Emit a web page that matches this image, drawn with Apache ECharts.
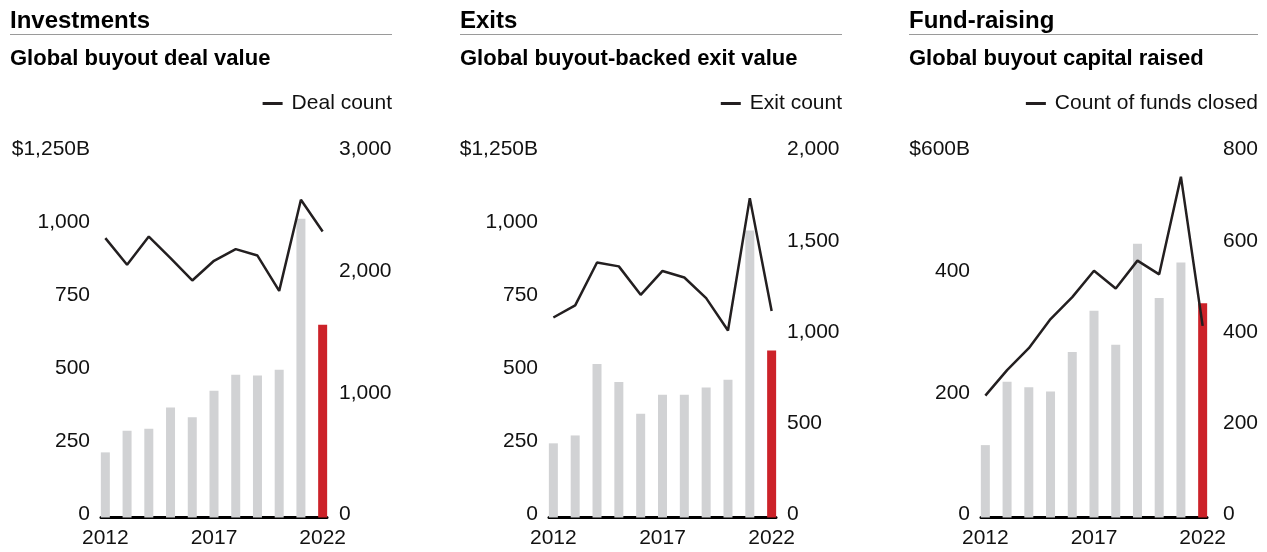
<!DOCTYPE html>
<html>
<head>
<meta charset="utf-8">
<title>Global buyouts</title>
<script src="https://cdn.jsdelivr.net/npm/echarts@6/dist/echarts.min.js"></script>
<style>
    html, body { margin: 0; padding: 0; background: #fff; }
    #chart { width: 1267px; height: 552px; }
</style>
</head>
<body>
<div id="chart"></div>
<script>
// years on the x axis, only 2012 / 2017 / 2022 get a label
var years = [2012, 2013, 2014, 2015, 2016, 2017, 2018, 2019, 2020, 2021, 2022];
var yearLabels = [2012, 2017, 2022];

// Investments
var dealValue = [223, 297, 304, 377, 343, 434, 489, 486, 506, 1023, 660];
var dealCount = [2296, 2077, 2309, 2132, 1948, 2110, 2206, 2153, 1863, 2611, 2351];

// Exits
var exitValue = [254, 281, 526, 464, 355, 420, 420, 445, 472, 983, 572];
var exitCount = [1096, 1162, 1397, 1376, 1220, 1351, 1315, 1202, 1025, 1750, 1132];

// Fund-raising
var capitalRaised = [119, 223, 214, 207, 272, 340, 284, 450, 361, 419, 352];
var fundsClosed = [267, 323, 371, 435, 483, 541, 502, 563, 533, 747, 420];

var FONT = '"Liberation Sans", Arial, Helvetica, sans-serif';
var TXT = '#111';
var GREY = '#d1d2d4';
var RED = '#cc2229';
var INK = '#231f20';

function fmt(v) {
    return String(v).replace(/\B(?=(\d{3})+(?!\d))/g, ',');
}

function barData(vals) {
    return vals.map(function (v, i) {
        var item = { value: [years[i], v] };
        if (i == vals.length - 1) {
            item.itemStyle = { color: RED };
        }
        return item;
    });
}

function lineData(vals) {
    return vals.map(function (v, i) {
        return [years[i], v];
    });
}

// one entry per panel: where it sits and what goes in it
var panels = [
    { x: 10, right: 392, plotLeft: 101, plotWidth: 226, title: 'Investments', sub: 'Global buyout deal value',
      legend: 'Deal count', bars: dealValue, line: dealCount, lMax: 1250, lStep: 250, rMax: 3000, rStep: 1000, rMargin: 12 },
    { x: 460, right: 842, plotLeft: 549, plotWidth: 227, title: 'Exits', sub: 'Global buyout-backed exit value',
      legend: 'Exit count', bars: exitValue, line: exitCount, lMax: 1250, lStep: 250, rMax: 2000, rStep: 500, rMargin: 11 },
    { x: 909, right: 1258, plotLeft: 981, plotWidth: 226, title: 'Fund-raising', sub: 'Global buyout capital raised',
      legend: 'Count of funds closed', bars: capitalRaised, line: fundsClosed, lMax: 600, lStep: 200, rMax: 800, rStep: 200, rMargin: 16 }
];

var W = 1267, H = 552;
var option = {
    animation: false,
    backgroundColor: '#fff',
    textStyle: { fontFamily: FONT, color: TXT },
    title: [],
    legend: [],
    grid: [],
    xAxis: [],
    yAxis: [],
    series: [],
    graphic: []
};

panels.forEach(function (p, i) {
    option.title.push({
        text: p.title, left: p.x, top: 9, padding: 0,
        textStyle: { fontFamily: FONT, fontSize: 24, fontWeight: 'bold', color: '#000' }
    });
    option.title.push({
        text: p.sub, left: p.x, top: 48, padding: 0,
        textStyle: { fontFamily: FONT, fontSize: 22, fontWeight: 'bold', color: '#000' }
    });
    option.graphic.push({
        type: 'line',
        shape: { x1: p.x, y1: 34.5, x2: p.right, y2: 34.5 },
        style: { stroke: '#9a9a9a', lineWidth: 1 }
    });
    option.legend.push({
        data: [p.legend],
        right: W - p.right, top: 93, padding: 0,
        icon: 'rect', itemWidth: 20, itemHeight: 3,
        textStyle: { fontFamily: FONT, fontSize: 21, color: TXT, padding: [0, 0, 0, 4] },
        selectedMode: false
    });
    option.grid.push({
        left: p.plotLeft, width: p.plotWidth, top: 152.5, bottom: H - 517.5
    });
    option.xAxis.push({
        type: 'value', gridIndex: i, min: 2011.8, max: 2022.2,
        splitLine: { show: false },
        axisTick: { show: false },
        axisLine: { show: true, lineStyle: { color: '#000', width: 3 } },
        axisLabel: {
            customValues: yearLabels,
            fontFamily: FONT, fontSize: 21, color: TXT, margin: 10,
            formatter: function (v) { return String(v); }
        }
    });
    // labels sit a little above their value in the original, hence bottom align + short line box
    option.yAxis.push({
        type: 'value', gridIndex: i, position: 'left', min: 0, max: p.lMax, interval: p.lStep,
        splitLine: { show: false }, axisLine: { show: false }, axisTick: { show: false },
        axisLabel: {
            fontFamily: FONT, fontSize: 21, color: TXT, margin: 11,
            verticalAlign: 'bottom', lineHeight: 6,
            formatter: function (v) { return v == p.lMax ? '$' + fmt(v) + 'B' : fmt(v); }
        }
    });
    option.yAxis.push({
        type: 'value', gridIndex: i, position: 'right', min: 0, max: p.rMax, interval: p.rStep,
        splitLine: { show: false }, axisLine: { show: false }, axisTick: { show: false },
        axisLabel: {
            fontFamily: FONT, fontSize: 21, color: TXT, margin: p.rMargin,
            verticalAlign: 'bottom', lineHeight: 6,
            formatter: function (v) { return fmt(v); }
        }
    });
    option.series.push({
        type: 'bar', name: p.title + ' value',
        xAxisIndex: i, yAxisIndex: i * 2,
        barWidth: 9, clip: false,
        itemStyle: { color: GREY },
        data: barData(p.bars),
        z: 2
    });
    option.series.push({
        type: 'line', name: p.legend,
        xAxisIndex: i, yAxisIndex: i * 2 + 1,
        color: INK, showSymbol: false, symbol: 'none',
        lineStyle: { color: INK, width: 2.5 },
        data: lineData(p.line),
        z: 3
    });
});

var myChart = echarts.init(document.getElementById('chart'));
myChart.setOption(option);
</script>
</body>
</html>
